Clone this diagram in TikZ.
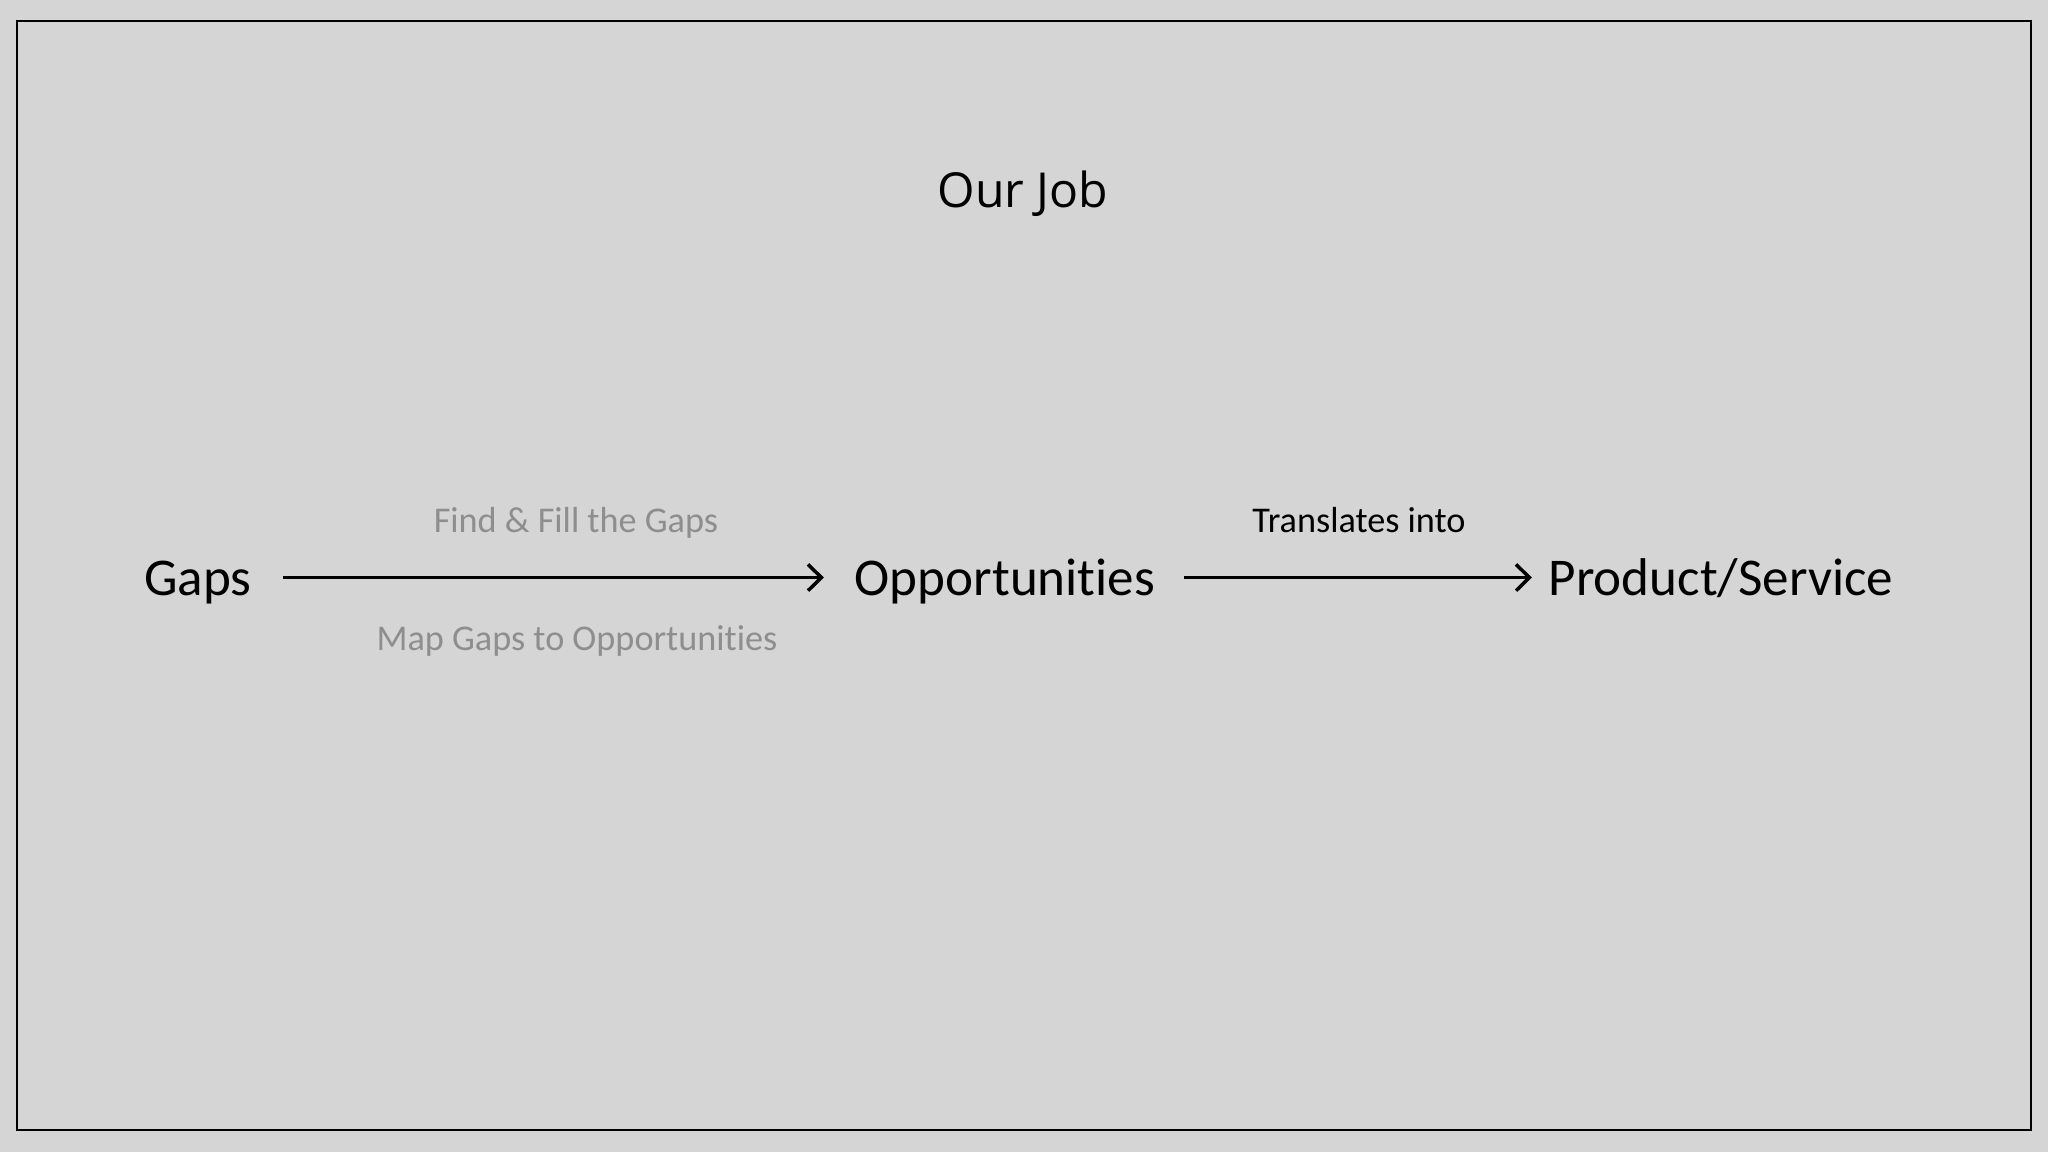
\documentclass[tikz,border=0pt]{standalone}
\usepackage{fontspec}
\setmainfont[Ligatures={NoCommon,NoRare,NoDiscretionary}]{Carlito}
\newfontfamily\titlefont{Open Sans}
\usetikzlibrary{arrows.meta}
\usepackage{xcolor}
\definecolor{slidebg}{HTML}{D5D5D5}
\definecolor{hintgray}{HTML}{8E8E8E}

\begin{document}
\begin{tikzpicture}[x=0.01cm, y=-0.01cm,
  stage/.style={inner sep=0, anchor=base, text height=10.5pt, text depth=0pt, font=\fontsize{15.1}{18}\selectfont},
  hint/.style={inner sep=0, anchor=base, font=\fontsize{10.3}{12}\selectfont, text=hintgray},
  flow/.style={black, line width=1pt, ->, >={Straight Barb[length=3.8pt,width=7.5pt]}}]
\fill[slidebg] (0,0) rectangle (2048,1152);
\draw[black, line width=0.7pt] (17,21) rectangle (2031,1130);
\node[inner sep=0, anchor=base, font=\titlefont\fontsize{13.7}{16}\selectfont] (title) at (1023,208) {Our Job};
\node[stage] (gaps) at (198,596) {Gaps};
\node[stage] (opps) at (1005,596) {Opportunities};
\node[stage] (prod) at (1721,596) {Product/Service};
\draw[flow, shorten <=8.8pt, shorten >=8.6pt] (gaps) -- (opps);
\draw[flow, shorten <=8pt, shorten >=4.6pt] (opps) -- (prod);
\node[hint] (fill) at (576,533) {Find \& Fill the Gaps};
\node[hint] (map) at (577,650) {Map Gaps to Opportunities};
\node[hint, text=black] (into) at (1359,533) {Translates into};
\end{tikzpicture}
\end{document}
